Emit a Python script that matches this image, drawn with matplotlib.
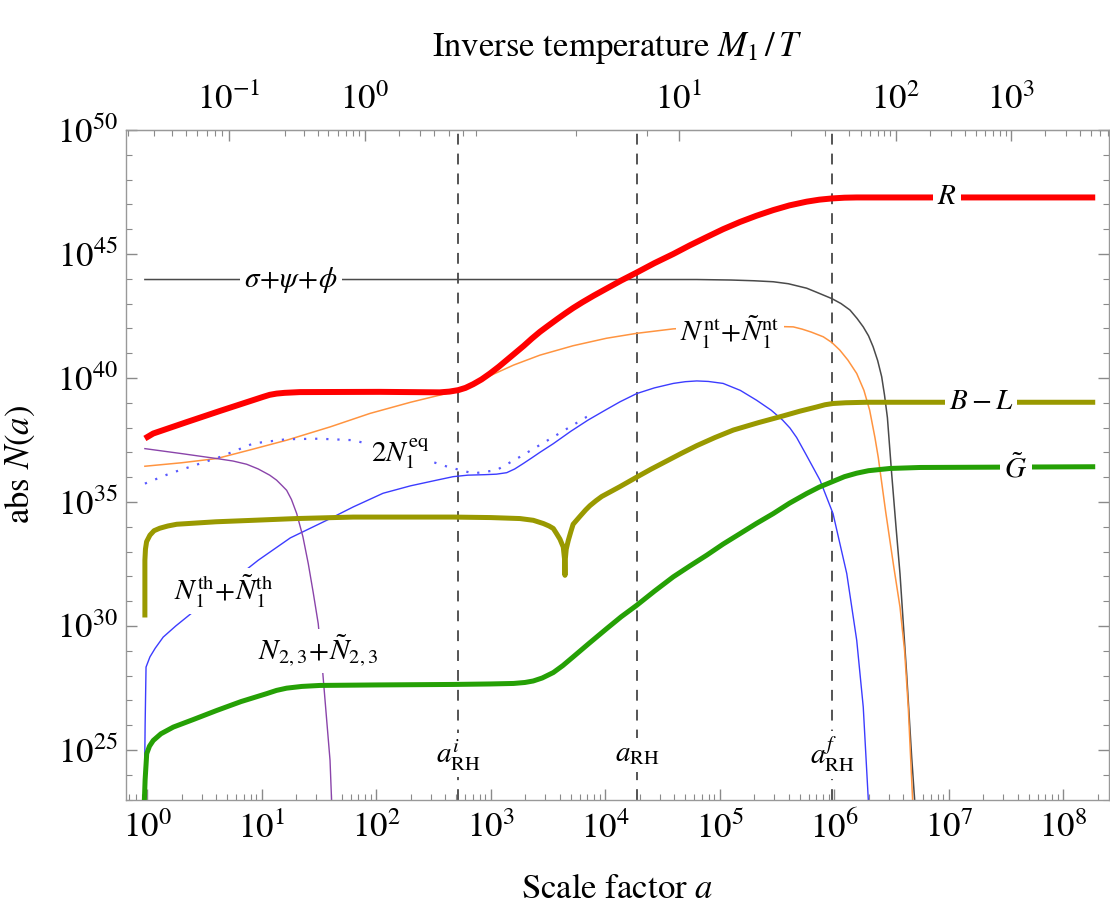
import numpy as np
import matplotlib.pyplot as plt
from matplotlib.ticker import FixedLocator, NullFormatter, LogFormatterSciNotation

plt.rcParams['font.family'] = 'STIXGeneral'
plt.rcParams['mathtext.fontset'] = 'stix'

# Number densities, stored as log10(a) and log10(N)
R_loga = [-0.02, 0.053, 0.345, 0.636, 1.014, 1.07, 1.131, 1.2, 1.334, 2.03, 2.555, 2.64,
          2.717, 2.78, 2.848, 2.92, 2.994, 3.07, 3.14, 3.21, 3.29, 3.36, 3.43, 3.5, 3.58,
          3.65, 3.72, 3.8, 3.9, 4.01, 4.14, 4.275, 4.43, 4.595, 4.74, 4.886, 5.03, 5.177,
          5.32, 5.468, 5.61, 5.76, 5.87, 5.98, 6.09, 6.197, 6.49, 8.28]
R_logN = [37.56, 37.76, 38.22, 38.67, 39.24, 39.32, 39.37, 39.40, 39.43, 39.44, 39.42, 39.45,
          39.51, 39.60, 39.75, 39.94, 40.18, 40.45, 40.72, 40.99, 41.30, 41.59, 41.86, 42.10,
          42.37, 42.60, 42.82, 43.05, 43.32, 43.60, 43.93, 44.25, 44.63, 45.00, 45.35, 45.68,
          46.00, 46.29, 46.54, 46.77, 46.96, 47.11, 47.19, 47.24, 47.27, 47.28, 47.28, 47.28]

inf_loga = [-0.02, 4.8, 5.1, 5.3, 5.468, 5.6, 5.76, 5.85, 5.98, 6.06, 6.138, 6.2, 6.254,
            6.30, 6.34, 6.38, 6.415, 6.44, 6.465, 6.502, 6.54, 6.575, 6.633, 6.677, 6.71]
inf_logN = [43.97, 43.97, 43.95, 43.92, 43.88, 43.80, 43.62, 43.45, 43.20, 43.00, 42.74,
            42.40, 42.06, 41.70, 41.26, 40.70, 40.05, 39.30, 38.40, 36.15, 34.0, 32.1, 28.07,
            24.71, 22.5]

Nnt_loga = [-0.02, 0.3, 0.607, 0.9, 1.218, 1.6, 1.946, 2.3, 2.673, 2.85, 2.99, 3.2, 3.43,
            3.72, 4.01, 4.275, 4.595, 4.9, 5.3, 5.643, 5.72, 5.8, 5.905, 5.98, 6.05, 6.12,
            6.197, 6.26, 6.31, 6.356, 6.385, 6.45, 6.52, 6.575, 6.615, 6.647, 6.686]
Nnt_logN = [36.44, 36.58, 36.75, 37.10, 37.49, 38.03, 38.57, 39.02, 39.44, 39.75, 40.08,
            40.52, 40.92, 41.30, 41.60, 41.80, 41.98, 42.06, 42.10, 42.06, 41.97, 41.85,
            41.66, 41.43, 41.12, 40.72, 40.18, 39.50, 38.70, 37.60, 36.80, 34.60, 32.40,
            30.76, 29.0, 26.73, 22.9]

Nth_loga = [-0.025, -0.018, -0.01, 0.024, 0.07, 0.14, 0.25, 0.40, 0.6, 0.97, 1.25, 1.568,
            1.8, 2.06, 2.3, 2.53, 2.673, 2.8, 2.95, 3.05, 3.14, 3.21, 3.285, 3.36, 3.43,
            3.547, 3.7, 3.85, 4.0, 4.13, 4.275, 4.43, 4.595, 4.7, 4.8, 4.9, 5.03, 5.18,
            5.323, 5.45, 5.55, 5.614, 5.672, 5.75, 5.876, 5.99, 6.11, 6.197, 6.254, 6.298]
Nth_logN = [22.9, 26.0, 28.34, 28.75, 29.10, 29.55, 30.0, 30.56, 31.30, 32.65, 33.55, 34.26,
            34.80, 35.35, 35.65, 35.88, 36.02, 36.08, 36.10, 36.12, 36.18, 36.33, 36.55,
            36.78, 37.0, 37.35, 37.85, 38.3, 38.7, 39.04, 39.37, 39.60, 39.78, 39.85, 39.88,
            39.86, 39.78, 39.50, 39.10, 38.70, 38.30, 37.98, 37.60, 36.95, 35.88, 34.53,
            32.11, 29.42, 26.73, 23.0]

Neq_loga = [-0.02, 0.2, 0.64, 0.927, 1.218, 1.5, 1.8, 2.3, 2.63, 2.848, 3.05, 3.256, 3.547,
            3.838, 3.9]
Neq_logN = [35.74, 36.15, 36.82, 37.36, 37.53, 37.55, 37.49, 36.9, 36.41, 36.15, 36.28,
            36.82, 37.62, 38.43, 38.55]

N23_loga = [-0.02, 0.3, 0.607, 0.75, 0.869, 0.97, 1.07, 1.13, 1.18, 1.218, 1.26, 1.306,
            1.36, 1.407, 1.45, 1.494, 1.533, 1.568, 1.597, 1.611]
N23_logN = [37.15, 36.95, 36.75, 36.65, 36.52, 36.33, 36.08, 35.88, 35.65, 35.47, 35.10,
            34.53, 33.60, 32.51, 31.35, 30.09, 28.14, 26.19, 24.58, 22.9]

BL_loga = [-0.02, -0.02, -0.015, -0.005, 0.024, 0.06, 0.11, 0.18, 0.258, 0.6, 0.927, 1.3,
           1.8, 2.673, 3.0, 3.256, 3.372, 3.46, 3.51, 3.547, 3.576, 3.605, 3.634, 3.645,
           3.649, 3.652, 3.66, 3.678, 3.70, 3.72, 3.78, 3.83, 3.867, 3.92, 3.97, 4.05, 4.13,
           4.275, 4.4, 4.537, 4.67, 4.8, 4.96, 5.12, 5.34, 5.555, 5.7, 5.847, 5.92, 5.99,
           6.1, 6.284, 8.28]
BL_logN = [30.34, 32.65, 33.10, 33.40, 33.66, 33.84, 33.94, 34.03, 34.10, 34.20, 34.26, 34.33,
           34.39, 34.39, 34.37, 34.33, 34.26, 34.13, 34.03, 33.93, 33.72, 33.50, 33.18, 32.70,
           32.04, 32.70, 33.10, 33.45, 33.80, 34.10, 34.42, 34.68, 34.85, 35.05, 35.22, 35.42,
           35.62, 36.00, 36.32, 36.65, 36.97, 37.27, 37.60, 37.90, 38.20, 38.47, 38.66, 38.83,
           38.92, 38.97, 39.00, 39.02, 39.02]

G_loga = [-0.025, -0.018, -0.01, -0.004, 0.02, 0.053, 0.12, 0.228, 0.4, 0.607, 0.82, 1.044,
          1.13, 1.218, 1.35, 1.509, 2.0, 2.673, 3.0, 3.2, 3.3, 3.372, 3.45, 3.547, 3.63,
          3.72, 3.86, 4.013, 4.14, 4.275, 4.43, 4.595, 4.74, 4.886, 5.03, 5.177, 5.32, 5.468,
          5.61, 5.76, 5.87, 5.98, 6.09, 6.197, 6.3, 6.487, 6.75, 8.28]
G_logN = [22.9, 23.8, 24.4, 24.85, 25.15, 25.38, 25.65, 25.92, 26.22, 26.59, 26.95, 27.27,
          27.40, 27.49, 27.56, 27.60, 27.62, 27.64, 27.66, 27.68, 27.72, 27.78, 27.90, 28.12,
          28.40, 28.75, 29.30, 29.89, 30.37, 30.83, 31.40, 31.98, 32.42, 32.85, 33.30, 33.72,
          34.13, 34.53, 34.95, 35.34, 35.60, 35.81, 36.02, 36.16, 36.26, 36.35, 36.39, 36.42]

# inverse temperature M1/T against scale factor (log10 a, log10 M1/T)
temp_loga = [-10.0, 0.062, 0.712, 1.203, 1.582, 1.902, 2.202, 2.507, 2.632, 2.872, 3.745,
             4.363, 4.644, 5.626, 6.132, 6.537, 7.544, 20.0]
temp_logz = [-9.19, -1.523, -1.0, -0.699, -0.301, 0.0, 0.301, 0.602, 0.699, 0.845, 0.903,
             0.954, 1.0, 1.301, 1.602, 2.0, 3.0, 15.456]

# reheating scale factors
a_rh_i, a_rh, a_rh_f = 5.2e2, 1.9e4, 9.6e5

# tick decades shown on each axis
a_decades = list(range(0, 9))
temp_decades = list(range(-1, 4))
N_decades = list(range(25, 51, 5))


def a_to_temp(a):
    a = np.clip(np.asarray(a, dtype=float), 1e-300, None)
    return 10 ** np.interp(np.log10(a), temp_loga, temp_logz)


def temp_to_a(z):
    z = np.clip(np.asarray(z, dtype=float), 1e-300, None)
    return 10 ** np.interp(np.log10(z), temp_logz, temp_loga)


def curve(loga, logN):
    return 10 ** np.array(loga), 10 ** np.array(logN)


def minors(lo, hi, decades):
    vals = [m * 10.0 ** k for k in range(min(decades) - 1, max(decades) + 1) for m in range(2, 10)]
    return [v for v in vals if lo < v < hi]


fig = plt.figure(figsize=(11.1, 9.15), dpi=100)
ax = fig.add_axes([126 / 1110, 1 - 799.5 / 915, (1108.5 - 126) / 1110, (799.5 - 130) / 915])
ax.set_xscale('log')
ax.set_yscale('log')
xlo, xhi = 10 ** -0.185, 10 ** 8.396
ax.set_xlim(xlo, xhi)
ax.set_ylim(1e23, 1e50)

for xv in (a_rh_i, a_rh, a_rh_f):
    ax.axvline(xv, color='#474747', lw=1.3, ls=(0, (6, 5)), zorder=1)

ax.plot(*curve(inf_loga, inf_logN), color='#4a4a4a', lw=1.1, zorder=2)
ax.plot(*curve(Nnt_loga, Nnt_logN), color='#FF9440', lw=1.1, zorder=2)
ax.plot(*curve(Nth_loga, Nth_logN), color='#3C3CFF', lw=1.0, zorder=2)
ax.plot(*curve(Neq_loga, Neq_logN), color='#5A5AFF', lw=1.6, ls=(0, (1, 4)), zorder=2)
ax.plot(*curve(N23_loga, N23_logN), color='#8A44AA', lw=1.0, zorder=2)
ax.plot(*curve(BL_loga, BL_logN), color='#999900', lw=3.6, zorder=3, solid_capstyle='butt')
ax.plot(*curve(G_loga, G_logN), color='#25A005', lw=3.6, zorder=3, solid_capstyle='butt')
ax.plot(*curve(R_loga, R_logN), color='#FF0000', lw=4.3, zorder=4, solid_capstyle='butt')

box = dict(facecolor='white', edgecolor='none', pad=3)
lab = dict(ha='center', va='center', fontsize=21, bbox=box, zorder=6)
ax.text(10 ** 1.257, 10 ** 43.97, r'$\sigma\!+\!\psi\!+\!\phi$', **lab)
ax.text(10 ** 6.983, 10 ** 47.27, r'$R$', **lab)
ax.text(10 ** 5.09, 10 ** 41.85, r'$N_1^{\rm nt}\!+\!\tilde{N}_1^{\rm nt}$', **lab)
ax.text(10 ** 7.283, 10 ** 39.0, r'$B-L$', **lab)
ax.text(10 ** 7.588, 10 ** 36.36, r'$\tilde{G}$', **lab)
ax.text(10 ** 2.208, 10 ** 36.97, r'$2N_1^{\rm eq}$', **lab)
ax.text(10 ** 0.67, 10 ** 31.4, r'$N_1^{\rm th}\!+\!\tilde{N}_1^{\rm th}$', **lab)
ax.text(10 ** 1.494, 10 ** 28.98, r'$N_{2,3}\!+\!\tilde{N}_{2,3}$', **lab)
ax.text(a_rh_i, 10 ** 24.8, r'$a_{\rm RH}^{i}$', **lab)
ax.text(a_rh, 10 ** 24.8, r'$a_{\rm RH}$', **lab)
ax.text(a_rh_f, 10 ** 24.8, r'$a_{\rm RH}^{f}$', **lab)

ax.xaxis.set_major_locator(FixedLocator([10.0 ** k for k in a_decades]))
ax.xaxis.set_minor_locator(FixedLocator(minors(xlo, xhi, a_decades)))
ax.xaxis.set_major_formatter(LogFormatterSciNotation())
ax.xaxis.set_minor_formatter(NullFormatter())
ax.yaxis.set_major_locator(FixedLocator([10.0 ** k for k in N_decades]))
ax.yaxis.set_minor_locator(FixedLocator([10.0 ** k for k in range(23, 51)]))
ax.yaxis.set_major_formatter(LogFormatterSciNotation())
ax.yaxis.set_minor_formatter(NullFormatter())

tick_col = '#8a8a8a'
ax.tick_params(which='both', direction='in', color=tick_col, labelcolor='black',
               top=False, right=True, labelsize=25)
ax.tick_params(which='major', length=8, width=1.0)
ax.tick_params(which='minor', length=4.5, width=0.8)
ax.tick_params(axis='x', pad=9)
ax.tick_params(axis='y', pad=6)
for sp in ax.spines.values():
    sp.set_color('#999999')
    sp.set_linewidth(1.0)

sec = ax.secondary_xaxis('top', functions=(a_to_temp, temp_to_a))
tlo, thi = a_to_temp(xlo), a_to_temp(xhi)
sec.xaxis.set_major_locator(FixedLocator([10.0 ** k for k in temp_decades]))
sec.xaxis.set_minor_locator(FixedLocator(minors(tlo, thi, temp_decades)))
sec.xaxis.set_major_formatter(LogFormatterSciNotation())
sec.xaxis.set_minor_formatter(NullFormatter())
sec.tick_params(which='both', direction='in', color=tick_col, labelcolor='black',
                labelsize=25, pad=9)
sec.tick_params(which='major', length=8, width=1.0)
sec.tick_params(which='minor', length=4.5, width=0.8)
sec.spines['top'].set_color('#999999')
sec.set_xlabel(r'Inverse temperature $M_1\,/\,T$', fontsize=25, labelpad=20)

ax.set_xlabel(r'Scale factor $a$', fontsize=25, labelpad=20)
ax.set_ylabel(r'abs $N(a)$', fontsize=25, labelpad=14)

fig.savefig('out.png', dpi=100)
